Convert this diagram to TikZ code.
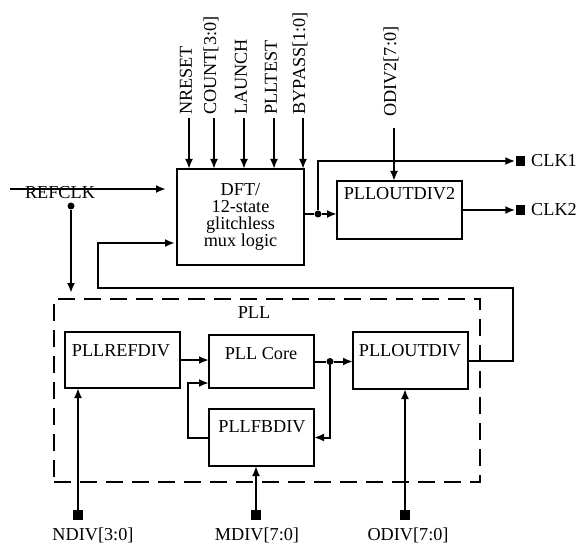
\documentclass[tikz,border=0pt]{standalone}
\usepackage{fontspec}
\setmainfont{Liberation Serif}
\usetikzlibrary{arrows.meta,calc}
\begin{document}
\begin{tikzpicture}[x=1bp,y=-1bp,
  font=\fontsize{18.3}{17}\selectfont,
  box/.style={draw,line width=2bp,inner sep=0pt,outer sep=0pt},
  wire/.style={line width=2bp},
  arr/.style={wire,-{Latex[length=10bp,width=8bp]}},
  dot/.style={circle,fill,inner sep=0pt,minimum size=7bp},
  pad/.style={fill,inner sep=0pt,minimum width=9bp,minimum height=10bp},
  txt/.style={inner sep=0pt},
  vtxt/.style={inner sep=0pt,rotate=90,anchor=west,font=\fontsize{18.3}{18}\selectfont}]
\useasboundingbox (0,0) rectangle (579,546);

% DFT block
\node[box,minimum width=127bp,minimum height=96bp,align=center] (dft) at (240.5,217) {DFT/\\12-state\\glitchless\\mux logic};

% DFT inputs
\node[vtxt] (lnr) at (186,115) {NRESET};
\node[vtxt] (lcnt) at (211,115) {COUNT[3:0]};
\node[vtxt] (llau) at (241,115) {LAUNCH};
\node[vtxt] (lplt) at (271,115) {PLLTEST};
\node[vtxt] (lbyp) at (300,115) {BYPASS[1:0]};
\coordinate (inA) at (189,118);
\coordinate (inB) at (214,118);
\coordinate (inC) at (244,118);
\coordinate (inD) at (274,118);
\coordinate (inE) at (303,118);
\foreach \c in {inA,inB,inC,inD,inE}
  \draw[arr] (\c) -- (\c |- dft.north);

% REFCLK
\node[txt] (lref) at (60,192.5) {REFCLK};
\coordinate (refin) at (10,189);
\coordinate (refend) at (166,189);
\draw[arr] (refin) -- (refend);
\node[dot] (rdot) at (71,206) {};
\coordinate (rtip) at (71,293);
\draw[arr] (rdot) -- (rtip);

% PLLOUTDIV2
\node[box,minimum width=125bp,minimum height=58bp] (p2) at (399.5,210) {};
\node[txt] (p2t) at (399.5,194) {PLLOUTDIV2};
\node[vtxt] (lodiv2) at (391,117) {ODIV2[7:0]};
\coordinate (od2top) at (394,128);
\draw[arr] (od2top) -- (od2top |- p2.north);

% DFT output
\coordinate (dftout) at (304,214);
\node[dot] (odot) at (318,214) {};
\draw[wire] (dftout) -- (odot);
\draw[arr] (odot) -- (odot -| p2.west);
\node[pad] (clk1sq) at (520,161) {};
\node[pad] (clk2sq) at (520,210) {};
\draw[arr] (odot) |- (clk1sq.west);
\draw[arr] (p2.east) -- (clk2sq.west);
\node[txt,anchor=west] (lclk1) at (531,161) {CLK1};
\node[txt,anchor=west] (lclk2) at (531,210) {CLK2};

% PLL container
\node[draw,wire,dash pattern=on 17bp off 9bp,minimum width=426bp,minimum height=183bp,inner sep=0pt] (pll) at (267,390.5) {};
\node[txt] (lpll) at (254,313) {PLL};

\node[box,minimum width=115bp,minimum height=56bp] (refdiv) at (122.5,360) {};
\node[txt] (refdivt) at (121,351) {PLLREFDIV};
\node[box,minimum width=105bp,minimum height=53bp] (core) at (261.5,361.5) {};
\node[txt] (coret) at (261,354) {PLL Core};
\node[box,minimum width=105bp,minimum height=57bp] (fbdiv) at (261.5,437.5) {};
\node[txt] (fbdivt) at (262,427) {PLLFBDIV};
\node[box,minimum width=115bp,minimum height=57bp] (outdiv) at (410.5,360.5) {};
\node[txt] (outdivt) at (410,351) {PLLOUTDIV};

\draw[arr] (refdiv.east) -- (refdiv.east -| core.west);
\node[dot] (cdot) at (330,361.5) {};
\draw[wire] (core.east) -- (cdot);
\draw[arr] (cdot) -- (cdot -| outdiv.west);
\draw[arr] (cdot) |- (fbdiv.east);
\coordinate (fbL) at (188,383);
\coordinate (corein) at (209,383);
\draw[arr] (fbdiv.west) -| (fbL) -- (corein);

% loop back to DFT
\coordinate (fbA) at (513,288);
\coordinate (fbB) at (98,288);
\coordinate (fbtip) at (175,243);
\draw[arr] (outdiv.east) -| (fbA) -- (fbB) |- (fbtip);

% bottom pads
\node[pad,minimum width=10bp] (npad) at (78,515) {};
\node[pad,minimum width=10bp] (mpad) at (256,515) {};
\node[pad,minimum width=10bp] (opad) at (405,515) {};
\draw[arr] (npad) -- (npad |- refdiv.south);
\draw[arr] (mpad) -- (mpad |- fbdiv.south);
\draw[arr] (opad) -- (opad |- outdiv.south);
\node[txt] (lndiv) at (93,535) {NDIV[3:0]};
\node[txt] (lmdiv) at (257,535) {MDIV[7:0]};
\node[txt] (lodiv) at (408,535) {ODIV[7:0]};
\end{tikzpicture}
\end{document}
